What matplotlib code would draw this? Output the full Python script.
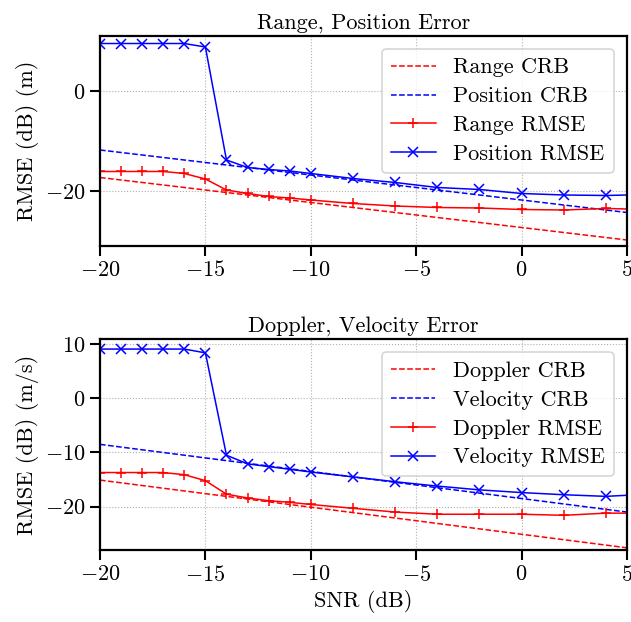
import matplotlib
matplotlib.use("Agg")
from matplotlib import pyplot as plt

plt.rcParams['font.family'] = 'serif'
plt.rcParams['font.serif'] = ['cmr10']
plt.rcParams['mathtext.fontset'] = 'cm'
plt.rcParams['axes.formatter.use_mathtext'] = True
plt.rcParams['axes.unicode_minus'] = True

snr = [-20, -19, -18, -17, -16, -15, -14, -13, -12, -11, -10,
       -8, -6, -4, -2, 0, 2, 4, 6]

range_crb = [-17.3, -17.8, -18.3, -18.8, -19.3, -19.8, -20.3, -20.8, -21.3, -21.8,
             -22.3, -23.3, -24.3, -25.3, -26.3, -27.3, -28.3, -29.3, -30.3]
position_crb = [-11.8, -12.3, -12.8, -13.3, -13.8, -14.3, -14.8, -15.3, -15.8, -16.3,
                -16.8, -17.8, -18.8, -19.8, -20.8, -21.8, -22.8, -23.8, -24.8]
range_rmse = [-16.1, -16.1, -16.1, -16.1, -16.5, -17.6, -19.8, -20.5, -21.1, -21.4,
              -21.8, -22.5, -23.0, -23.3, -23.4, -23.7, -23.8, -23.5, -23.7]
position_rmse = [9.5, 9.5, 9.5, 9.5, 9.5, 8.8, -13.8, -15.3, -15.7, -16.0,
                 -16.5, -17.5, -18.3, -19.3, -19.7, -20.5, -20.8, -20.9, -20.7]

doppler_crb = [-15.1, -15.6, -16.1, -16.6, -17.1, -17.6, -18.1, -18.6, -19.1, -19.6,
               -20.1, -21.1, -22.1, -23.1, -24.1, -25.1, -26.1, -27.1, -28.1]
velocity_crb = [-8.5, -9.0, -9.5, -10.0, -10.5, -11.0, -11.5, -12.0, -12.5, -13.0,
                -13.5, -14.5, -15.5, -16.5, -17.5, -18.5, -19.5, -20.5, -21.5]
doppler_rmse = [-13.7, -13.7, -13.7, -13.7, -14.1, -15.2, -17.7, -18.4, -18.9, -19.2,
                -19.6, -20.3, -21.0, -21.4, -21.4, -21.4, -21.6, -21.2, -21.2]
velocity_rmse = [9.1, 9.1, 9.1, 9.1, 9.1, 8.4, -10.5, -12.1, -12.6, -13.1,
                 -13.6, -14.5, -15.4, -16.2, -16.9, -17.4, -17.8, -18.1, -17.7]

fig = plt.figure(figsize=(6.31, 6.22), dpi=100)
ax1 = fig.add_axes([0.1585, 0.605, 0.835, 0.3376])
ax2 = fig.add_axes([0.1585, 0.1158, 0.835, 0.3392])

fs = 16


def draw(ax, crb_a, crb_b, rmse_a, rmse_b, names, title, ylabel, ylim):
    ax.plot(snr, crb_a, 'r--', lw=1.1, label=names[0] + ' CRB')
    ax.plot(snr, crb_b, 'b--', lw=1.1, label=names[1] + ' CRB')
    ax.plot(snr, rmse_a, 'r-', lw=1.1, marker='+', ms=7.5, mew=1.1, label=names[0] + ' RMSE')
    ax.plot(snr, rmse_b, 'b-', lw=1.1, marker='x', ms=7.5, mew=1.1, label=names[1] + ' RMSE')
    ax.set_xlim(-20, 5)
    ax.set_ylim(*ylim)
    ax.set_title(title, fontsize=fs, pad=5)
    ax.set_ylabel(ylabel, fontsize=fs)
    ax.grid(True, ls=':', color='#b0b0b0', lw=0.8)
    for s in ax.spines.values():
        s.set_linewidth(1.6)
    ax.tick_params(labelsize=fs, width=1.5, length=7)
    leg = ax.legend(loc='upper right', fontsize=fs, fancybox=True, framealpha=0.8,
                    handlelength=2.0, borderaxespad=0.6, labelspacing=0.42)
    leg.get_frame().set_linewidth(1.2)


draw(ax1, range_crb, position_crb, range_rmse, position_rmse, ['Range', 'Position'],
     'Range, Position Error', 'RMSE (dB) (m)', (-30.94, 11.06))
ax1.set_yticks([-20, 0])
draw(ax2, doppler_crb, velocity_crb, doppler_rmse, velocity_rmse, ['Doppler', 'Velocity'],
     'Doppler, Velocity Error', 'RMSE (dB) (m/s)', (-28.0, 10.96))
ax2.set_yticks([-20, -10, 0, 10])
ax2.set_xlabel('SNR (dB)', fontsize=fs)

fig.savefig('out.png', dpi=100)
